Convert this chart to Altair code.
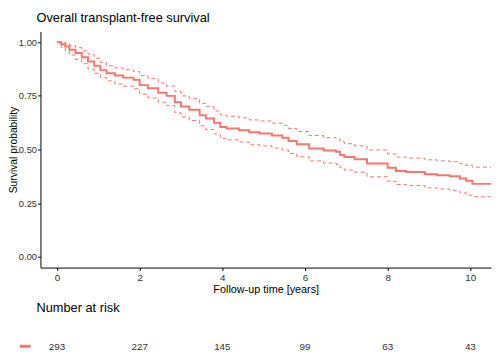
import altair as alt
import pandas as pd

# Kaplan-Meier step curve
time = [0, 0.1, 0.2, 0.3, 0.45, 0.6, 0.75, 0.9, 1.05, 1.2, 1.4, 1.6, 1.85, 2.0, 2.2, 2.45,
        2.65, 2.85, 3.0, 3.2, 3.45, 3.6, 3.8, 3.95, 4.1, 4.4, 4.65, 4.9, 5.2, 5.45, 5.6, 5.8,
        6.1, 6.45, 6.75, 6.85, 6.95, 7.2, 7.5, 8.0, 8.2, 8.45, 8.9, 9.2, 9.5, 9.75, 9.9, 10.05, 10.5]
surv = [1.00, 0.99, 0.98, 0.965, 0.95, 0.93, 0.91, 0.89, 0.87, 0.855, 0.845, 0.835, 0.825, 0.80,
        0.785, 0.765, 0.75, 0.72, 0.70, 0.685, 0.66, 0.645, 0.625, 0.605, 0.598, 0.59, 0.58, 0.575,
        0.565, 0.555, 0.54, 0.525, 0.505, 0.495, 0.49, 0.475, 0.465, 0.455, 0.435, 0.415, 0.40,
        0.395, 0.385, 0.38, 0.375, 0.365, 0.355, 0.34, 0.34]
upper = [1.00, 1.00, 0.995, 0.985, 0.975, 0.96, 0.945, 0.925, 0.905, 0.89, 0.88, 0.872, 0.863,
         0.845, 0.83, 0.81, 0.795, 0.77, 0.75, 0.737, 0.715, 0.70, 0.68, 0.662, 0.655, 0.648, 0.638,
         0.633, 0.623, 0.613, 0.598, 0.584, 0.565, 0.555, 0.55, 0.536, 0.527, 0.517, 0.498, 0.479,
         0.465, 0.46, 0.452, 0.447, 0.443, 0.434, 0.426, 0.418, 0.418]
lower = [1.00, 0.975, 0.96, 0.94, 0.92, 0.90, 0.875, 0.855, 0.835, 0.82, 0.805, 0.795, 0.783,
         0.758, 0.74, 0.72, 0.705, 0.672, 0.652, 0.635, 0.61, 0.593, 0.573, 0.552, 0.545, 0.535,
         0.522, 0.517, 0.507, 0.497, 0.482, 0.466, 0.447, 0.437, 0.431, 0.415, 0.404, 0.394, 0.373,
         0.352, 0.337, 0.332, 0.321, 0.316, 0.31, 0.298, 0.287, 0.28, 0.28]

x_ticks = [0, 2, 4, 6, 8, 10]
y_ticks = [0, 0.25, 0.5, 0.75, 1.0]
risk_times = [0, 2, 4, 6, 8, 10]
risk_counts = [293, 227, 145, 99, 63, 43]
titles = ["Overall transplant-free survival"]
table_titles = ["Number at risk"]

RED = "#F8766D"
FONT = "Liberation Sans"
TXT = "#333333"

df = pd.DataFrame({"time": time, "surv": surv, "upper": upper, "lower": lower})
ci = df.melt(id_vars="time", value_vars=["upper", "lower"], var_name="bound", value_name="value")
risk = pd.DataFrame({"time": risk_times, "n": risk_counts})

xscale = alt.Scale(domain=[-0.4, 10.5], nice=False, zero=False)
yscale = alt.Scale(domain=[-0.05, 1.05], nice=False, zero=False)

x_axis = alt.Axis(values=x_ticks, format="d", title="Follow-up time [years]", grid=False,
                  labelFlush=False, tickSize=3, labelPadding=2, titlePadding=1,
                  labelFontSize=10, titleFontSize=11, labelColor=TXT, titleColor="#000",
                  titleFontWeight="normal", domainColor="#000", tickColor="#000")
y_axis = alt.Axis(values=y_ticks, format=".2f", title="Survival probability", grid=False,
                  labelFlush=False, tickSize=3, labelPadding=1,
                  labelFontSize=9.5, titleFontSize=10.5, labelColor=TXT, titleColor="#000",
                  titleFontWeight="normal", domainColor="#000", tickColor="#000",
                  titleX=-27, titleY=120, titleAngle=270, titleBaseline="middle",
                  titleAlign="center")

ci_layer = alt.Chart(ci).mark_line(
    interpolate="step-after", color=RED, strokeWidth=1, strokeDash=[4, 3]
).encode(
    x=alt.X("time:Q", scale=xscale, axis=x_axis),
    y=alt.Y("value:Q", scale=yscale, axis=y_axis),
    detail="bound:N",
)

main = alt.Chart(df).mark_line(
    interpolate="step-after", color=RED, strokeWidth=2
).encode(
    x=alt.X("time:Q", scale=xscale),
    y=alt.Y("surv:Q", scale=yscale),
)

risk_text = alt.Chart(risk).mark_text(
    font=FONT, fontSize=10, color=TXT, align="center", baseline="middle"
).encode(
    x=alt.X("time:Q", scale=xscale),
    y=alt.value(321),
    text=alt.Text("n:Q", format="d"),
)

main_title = alt.Chart(pd.DataFrame({"label": titles})).mark_text(
    font=FONT, fontSize=13, color="#000", align="left", baseline="alphabetic"
).encode(
    x=alt.value(-4),
    y=alt.value(-10),
    text="label:N",
)

risk_title = alt.Chart(pd.DataFrame({"label": table_titles})).mark_text(
    font=FONT, fontSize=13, color="#000", align="left", baseline="middle"
).encode(
    x=alt.value(-4),
    y=alt.value(281),
    text="label:N",
)

strata_key = alt.Chart(pd.DataFrame({"strata": ["All"]})).mark_rule(
    color=RED, strokeWidth=3
).encode(
    x=alt.value(-21),
    x2=alt.value(-10),
    y=alt.value(320),
)

chart = alt.layer(ci_layer, main, risk_text, main_title, risk_title, strata_key).properties(
    width=458,
    height=240,
    autosize=alt.AutoSizeParams(type="none"),
    padding={"left": 33, "top": 21, "right": 1, "bottom": 86},
).configure(
    font=FONT,
).configure_view(
    stroke=None,
).configure_axis(
    labelFont=FONT, titleFont=FONT,
)

chart.save("out.html", embed_options={"renderer": "svg", "actions": False})
